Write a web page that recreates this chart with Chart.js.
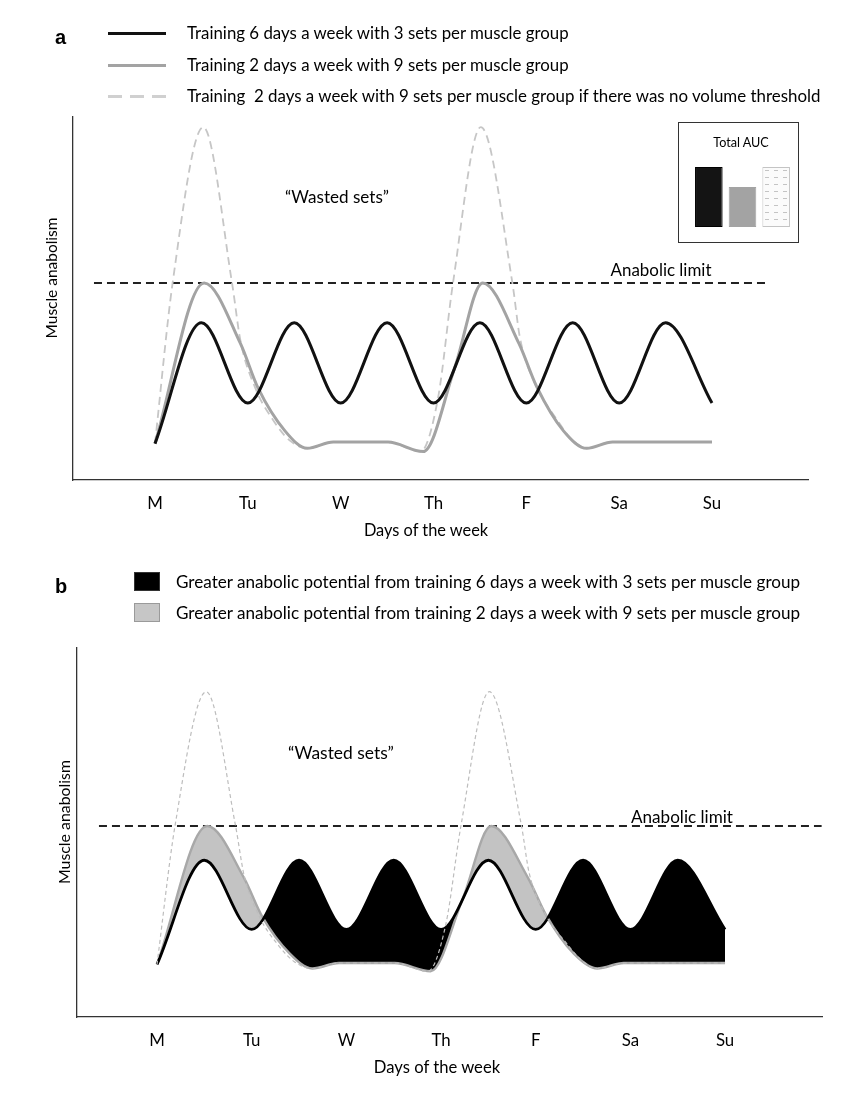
<!DOCTYPE html>
<html>
<head>
<meta charset="utf-8">
<script src="https://cdn.jsdelivr.net/npm/chart.js@4.4.1/dist/chart.umd.min.js"></script>
<style>
html,body{margin:0;padding:0;background:#fff;}
#wrap{position:relative;width:866px;height:1104px;overflow:hidden;background:#fff;font-family:Lato,"Open Sans",sans-serif;color:#000;}
#wrap canvas{position:absolute;left:0;}
.t{position:absolute;white-space:pre;line-height:1;}
.c{transform:translate(-50%,-50%);}
.l{transform:translate(0,-50%);}
.r{transform:translate(-50%,-50%) rotate(-90deg);}
.box{position:absolute;box-sizing:border-box;}
</style>
</head>
<body>
<div id="wrap">
  <canvas id="chartA" width="866" height="560" style="top:0px"></canvas>
  <canvas id="chartB" width="866" height="544" style="top:560px"></canvas>
  <div class="box" id="aucBox" style="left:678px;top:122px;width:121px;height:121px;border:1.5px solid #333;"></div>
  <canvas id="chartAUC" width="101" height="60" style="left:692px;top:167px"></canvas>
</div>
<script>
// ---------------- data ----------------
const dayLabels = ['M', 'Tu', 'W', 'Th', 'F', 'Sa', 'Su'];
const dayTicks = [0, 1, 2, 3, 4, 5, 6];

// training 6 days a week, 3 sets per muscle group
const sixDayX = [0, 0.5, 1, 1.5, 2, 2.5, 3, 3.5, 4, 4.5, 5, 5.5, 6];
const sixDayY = [19, 95, 44.5, 95, 44.5, 95, 44.5, 95, 44.5, 95, 44.5, 95, 44.5];

// training 2 days a week, 9 sets per muscle group
const twoDayX = [0, 0.53, 0.92, 1.11, 1.4, 1.64, 1.92, 2.51, 2.89, 3.23, 3.53, 3.92, 4.11, 4.4, 4.65, 4.93, 6];
const twoDayY = [19, 120, 82, 54, 27, 16, 20, 20, 14, 67, 120, 82, 55, 27, 16, 20, 20];

// training 2 days a week, 9 sets, if there was no volume threshold
const noLimitX = [0, 0.19, 0.52, 0.83, 0.92, 1.08, 1.27, 1.45, 1.64, 1.92, 2.51, 2.86, 3.05, 3.21, 3.51, 3.85, 3.93, 4.1, 4.33, 4.5, 4.65, 4.93, 6];
const noLimitY = [19, 120, 218, 120, 84, 54, 34, 21, 16, 20, 20, 14, 48, 120, 218, 120, 86, 56, 34, 21, 16, 20, 20];

const anabolicLimit = 120;

const aucLabels = ['6 days x 3 sets', '2 days x 9 sets', '2 days x 9 sets, no threshold'];
const aucValues = [60, 40, 60];

const legendA = [
  'Training 6 days a week with 3 sets per muscle group',
  'Training 2 days a week with 9 sets per muscle group',
  'Training  2 days a week with 9 sets per muscle group if there was no volume threshold'
];
const legendB = [
  'Greater anabolic potential from training 6 days a week with 3 sets per muscle group',
  'Greater anabolic potential from training 2 days a week with 9 sets per muscle group'
];
const yTitle = 'Muscle anabolism';
const xTitle = 'Days of the week';
const wastedLabel = '\u201CWasted sets\u201D';
const limitLabel = 'Anabolic limit';
const aucTitle = 'Total AUC';

// ---------------- helpers ----------------
const pts = (xs, ys) => xs.map((x, i) => ({x: x, y: ys[i]}));
const mctx = document.createElement('canvas').getContext('2d');
function fitSize(text, width, family) {
  mctx.font = '100px ' + family;
  return 100 * width / mctx.measureText(text).width;
}
const FAM = 'Lato';
const baseF = fitSize(legendA[0], 383, FAM);

const wrap = document.getElementById('wrap');
function addText(s, x, y, cls, opts) {
  const d = document.createElement('div');
  d.className = 't ' + cls;
  d.textContent = s;
  d.style.left = x + 'px';
  d.style.top = y + 'px';
  let size = opts.size;
  if (opts.w) size = fitSize(s, opts.w, FAM);
  d.style.fontSize = (size || baseF) + 'px';
  if (opts.font) d.style.font = opts.font;
  if (opts.color) d.style.color = opts.color;
  wrap.appendChild(d);
  return d;
}
function addBox(x, y, w, h, css) {
  const d = document.createElement('div');
  d.className = 'box';
  d.style.left = x + 'px'; d.style.top = y + 'px';
  d.style.width = w + 'px'; d.style.height = h + 'px';
  Object.assign(d.style, css);
  wrap.appendChild(d);
}

// ---------------- panel letters & legends ----------------
addText('a', 55, 37, 'l', {font: 'bold 20px "Liberation Sans", Arial, sans-serif'});
addText('b', 55, 586, 'l', {font: 'bold 20px "Liberation Sans", Arial, sans-serif'});

addBox(108, 31.5, 58, 3, {background: '#111'});
addBox(108, 63.5, 58, 3, {background: '#a3a3a3'});
addBox(108, 94.5, 58, 3, {background: 'repeating-linear-gradient(90deg,#d0d0d0 0 14px,transparent 14px 22px)'});
addText(legendA[0], 187, 33, 'l', {w: 383});
addText(legendA[1], 187, 65, 'l', {w: 383});
addText(legendA[2], 187, 96, 'l', {w: 636});

addBox(134, 572, 26, 19, {background: '#000', border: '1px solid #333'});
addBox(134, 603, 26, 19, {background: '#c6c6c6', border: '1px solid #9a9a9a'});
addText(legendB[0], 176, 582, 'l', {w: 626});
addText(legendB[1], 176, 613, 'l', {w: 626});

// annotations
addText(wastedLabel, 337, 197, 'c', {w: 104});
addText(wastedLabel, 341, 753, 'c', {w: 106});
addText(limitLabel, 661, 270, 'c', {w: 101});
addText(limitLabel, 682, 817, 'c', {w: 102});
addText(xTitle, 426, 530, 'c', {w: 125});
addText(xTitle, 437, 1067, 'c', {w: 127});
addText(yTitle, 52, 278, 'r', {w: 121});
addText(yTitle, 64, 822, 'r', {w: 124});
addText(aucTitle, 741, 143, 'c', {w: 56});

// ---------------- charts ----------------
const panels = {
  a: {pad: {left: 73, right: 58, top: 117, bottom: 30}, x: [-0.883, 7.034], y: [-3.9, 224.4], limit: [-0.657, 6.582]},
  b: {pad: {left: 77, right: 44, top: 88, bottom: 37}, x: [-0.845, 7.024], y: [-19.4, 249.9], limit: [-0.613, 7.02]}
};

function baseOptions(p) {
  return {
    responsive: false,
    animation: false,
    devicePixelRatio: 1,
    events: [],
    layout: {padding: p.pad},
    plugins: {legend: {display: false}, tooltip: {enabled: false}, filler: {drawTime: 'beforeDatasetsDraw'}},
    elements: {point: {radius: 0}},
    scales: {
      x: {
        type: 'linear', min: p.x[0], max: p.x[1],
        grid: {display: false, drawTicks: false},
        border: {display: true, color: '#333', width: 1.3},
        afterBuildTicks: s => { s.ticks = dayTicks.map(v => ({value: v})); },
        afterFit: s => { s.height = 50; },
        ticks: {
          autoSkip: false, maxRotation: 0, padding: 13, color: '#000',
          font: {family: FAM, size: baseF},
          callback: v => { const i = dayTicks.indexOf(v); return i >= 0 ? dayLabels[i] : ''; }
        }
      },
      y: {
        type: 'linear', min: p.y[0], max: p.y[1],
        grid: {display: false, drawTicks: false},
        border: {display: true, color: '#333', width: 1.3},
        ticks: {display: false},
        afterFit: s => { s.width = 0; }
      }
    }
  };
}

function limitData(p) {
  return [{x: p.limit[0], y: anabolicLimit}, {x: p.limit[1], y: anabolicLimit}];
}

// Panel a
new Chart(document.getElementById('chartA'), {
  type: 'line',
  data: {
    datasets: [
      {label: legendA[0], data: pts(sixDayX, sixDayY), borderColor: '#111', borderWidth: 3, cubicInterpolationMode: 'monotone', fill: false},
      {label: legendA[1], data: pts(twoDayX, twoDayY), borderColor: '#a3a3a3', borderWidth: 3, cubicInterpolationMode: 'monotone', fill: false},
      {label: legendA[2], data: pts(noLimitX, noLimitY), borderColor: '#c6c6c6', borderWidth: 1.8, borderDash: [8, 5], cubicInterpolationMode: 'monotone', fill: false},
      {label: limitLabel, data: limitData(panels.a), borderColor: '#222', borderWidth: 2, borderDash: [8, 5], tension: 0, fill: false}
    ]
  },
  options: baseOptions(panels.a)
});

// Panel b
new Chart(document.getElementById('chartB'), {
  type: 'line',
  data: {
    datasets: [
      {label: legendA[2], data: pts(noLimitX, noLimitY), borderColor: '#bdbdbd', borderWidth: 1.2, borderDash: [4, 3], cubicInterpolationMode: 'monotone', fill: false},
      {label: legendB[0], data: pts(sixDayX, sixDayY), borderColor: '#000', borderWidth: 2.8, cubicInterpolationMode: 'monotone',
        fill: {target: 2, above: '#000', below: '#c3c3c3'}},
      {label: legendB[1], data: pts(twoDayX, twoDayY), borderColor: '#a8a8a8', borderWidth: 2.4, cubicInterpolationMode: 'monotone', fill: false},
      {label: limitLabel, data: limitData(panels.b), borderColor: '#222', borderWidth: 2, borderDash: [8, 5], tension: 0, fill: false}
    ]
  },
  options: baseOptions(panels.b)
});

// Total AUC inset
function dashPattern() {
  const c = document.createElement('canvas');
  c.width = 9; c.height = 7;
  const g = c.getContext('2d');
  g.fillStyle = '#fbfbfb'; g.fillRect(0, 0, 9, 7);
  g.strokeStyle = '#c4c4c4'; g.lineWidth = 1;
  g.beginPath(); g.moveTo(1, 3.5); g.lineTo(5, 3.5); g.stroke();
  return g.createPattern(c, 'repeat');
}
new Chart(document.getElementById('chartAUC'), {
  type: 'bar',
  data: {
    labels: aucLabels,
    datasets: [{
      data: aucValues,
      backgroundColor: ['#141414', '#a3a3a3', dashPattern()],
      borderColor: ['#000', '#a3a3a3', '#c4c4c4'],
      borderWidth: 1,
      borderSkipped: false,
      barPercentage: 0.82,
      categoryPercentage: 1
    }]
  },
  options: {
    responsive: false, animation: false, devicePixelRatio: 1, events: [],
    layout: {padding: 0},
    plugins: {legend: {display: false}, tooltip: {enabled: false}},
    scales: {x: {display: false}, y: {display: false, min: 0, max: 60}}
  }
});
</script>
</body>
</html>
